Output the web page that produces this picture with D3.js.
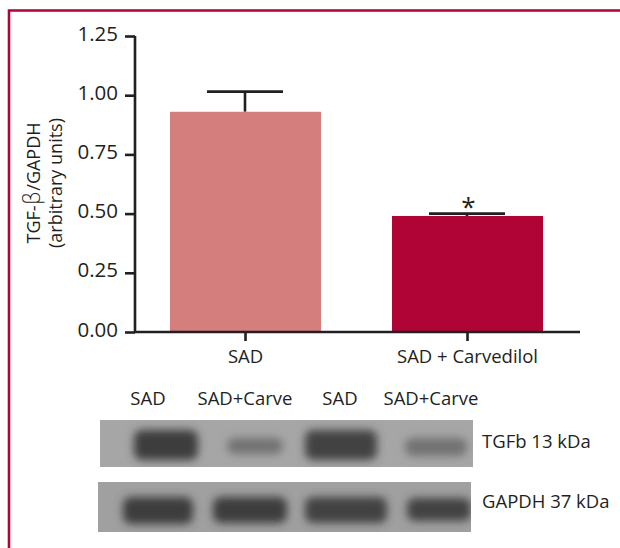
<!DOCTYPE html>
<html lang="en">
<head>
<meta charset="UTF-8">
<title>TGF-b / GAPDH</title>
<script src="https://cdnjs.cloudflare.com/ajax/libs/d3/7.8.5/d3.min.js"></script>
<style>
	*{padding:0;margin:0}
	body{background:#fff;overflow:hidden}
	text{font-family:"Open Sans",sans-serif;fill:#231f20}
	.axis .domain,.axis line{stroke:#231f20;stroke-width:2.6}
</style>
</head>
<body>
<div id="container"></div>
<script>
var categories=['SAD','SAD + Carvedilol']
var values=[0.93,0.49]
var errors=[1.015,0.5]
var colors=['#d47f7d','#b00336']
var y_ticks=[0,0.25,0.5,0.75,1,1.25]

// western blot, band strength per lane
var lane_labels=['SAD','SAD+Carve','SAD','SAD+Carve']
var blot_names=['TGFb 13 kDa','GAPDH 37 kDa']
var tgfb_bands=[1,0.5,0.95,0.5]
var gapdh_bands=[1,1,0.95,0.95]

var width=620,height=548
var svg=d3.select('#container').append('svg').attr('width',width).attr('height',height)

// frame has no right side, it only runs along the top and left
svg.append('path')
	.attr('d','M9,548V10.5H620')
	.attr('fill','none').attr('stroke','#b00336').attr('stroke-width',2.6)

var scale_y=d3.scaleLinear().domain([0,1.25]).range([332,36])
var scale_x=d3.scalePoint().domain(categories).range([245,467])

var y_axis=d3.axisLeft(scale_y).tickValues(y_ticks).tickSize(10).tickPadding(6).tickFormat(d3.format('.2f'))
var gy=svg.append('g').attr('class','axis').attr('transform','translate(135,0)').call(y_axis)
gy.select('.domain').attr('d','M0,36V332')
gy.selectAll('text').style('font-size','20.5px').attr('x',-17).attr('dy','0.2em')

svg.selectAll('.err').data(categories).enter().append('path')
	.attr('class','err')
	.attr('fill','none').attr('stroke','#231f20').attr('stroke-width',2.6)
	.attr('d',function(d,i){
		var x=scale_x(d)
		return 'M'+x+','+scale_y(values[i])+'V'+scale_y(errors[i])+'M'+(x-38)+','+scale_y(errors[i])+'H'+(x+38)
	})

svg.selectAll('.bar').data(categories).enter().append('rect')
	.attr('class','bar')
	.attr('x',function(d){return scale_x(d)-75})
	.attr('width',151)
	.attr('y',function(d,i){return scale_y(values[i])})
	.attr('height',function(d,i){return scale_y(0)-scale_y(values[i])})
	.attr('fill',function(d,i){return colors[i]})

var x_axis=d3.axisBottom(scale_x).tickSize(9).tickPadding(6)
var gx=svg.append('g').attr('class','axis').attr('transform','translate(0,332)').call(x_axis)
gx.select('.domain').attr('d','M135,0H580')
gx.selectAll('text').style('font-size','18.5px').attr('y',18).attr('dy','0.71em')

svg.append('text').attr('x',468.5).attr('y',216).attr('text-anchor','middle').style('font-size','26px').text('*')

var ylab=svg.append('text').attr('transform','translate(0,183) rotate(-90)').attr('text-anchor','middle').style('font-size','18px')
ylab.append('tspan').attr('x',0).attr('y',40).text('TGF-')
ylab.append('tspan').style('font-family','"DejaVu Sans",sans-serif').style('font-size','23px').style('font-weight','200').text('β')
ylab.append('tspan').text('/GAPDH')
ylab.append('tspan').attr('x',0).attr('y',62).text('(arbitrary units)')

// blots
var blots=[
	{bands:tgfb_bands,x:100,y:420,w:373,h:47,bg:'#a6a6a6',centers:[166,255,341,436],widths:[64,56,72,62],tops:[430,438,430,438],heights:[30,16,30,18]},
	{bands:gapdh_bands,x:98,y:482,w:373,h:50,bg:'#a0a0a0',centers:[158,250,346,439],widths:[70,74,82,64],tops:[497,497,497,498],heights:[27,26,26,23]}
]
var defs=svg.append('defs')
defs.append('filter').attr('id','blur').attr('x','-30%').attr('y','-60%').attr('width','160%').attr('height','220%')
	.append('feGaussianBlur').attr('stdDeviation','4.5 4')

var shade=d3.scaleLinear().domain([0,1]).range(['#a6a6a6','#3e3e3e'])

blots.forEach(function(b,idx){
	defs.append('clipPath').attr('id','c'+idx).append('rect').attr('x',b.x).attr('y',b.y).attr('width',b.w).attr('height',b.h)
	var g=svg.append('g').attr('clip-path','url(#c'+idx+')')
	g.append('rect').attr('x',b.x).attr('y',b.y).attr('width',b.w).attr('height',b.h).attr('fill',b.bg)
	g.selectAll('rect.band').data(b.bands).enter().append('rect')
		.attr('class','band')
		.attr('x',function(d,i){return b.centers[i]-b.widths[i]/2})
		.attr('width',function(d,i){return b.widths[i]})
		.attr('y',function(d,i){return b.tops[i]})
		.attr('height',function(d,i){return b.heights[i]})
		.attr('rx',8)
		.attr('fill',function(d){return shade(d)})
		.attr('filter','url(#blur)')
})

svg.selectAll('.lane').data(lane_labels).enter().append('text')
	.attr('class','lane')
	.attr('x',function(d,i){return [148,245,340,431][i]})
	.attr('y',405)
	.attr('text-anchor','middle').style('font-size','18.5px').text(function(d){return d})

svg.selectAll('.blot').data(blot_names).enter().append('text')
	.attr('class','blot')
	.attr('x',482).attr('y',function(d,i){return [448,508][i]})
	.style('font-size','18.5px').text(function(d){return d})
</script>
</body>
</html>
